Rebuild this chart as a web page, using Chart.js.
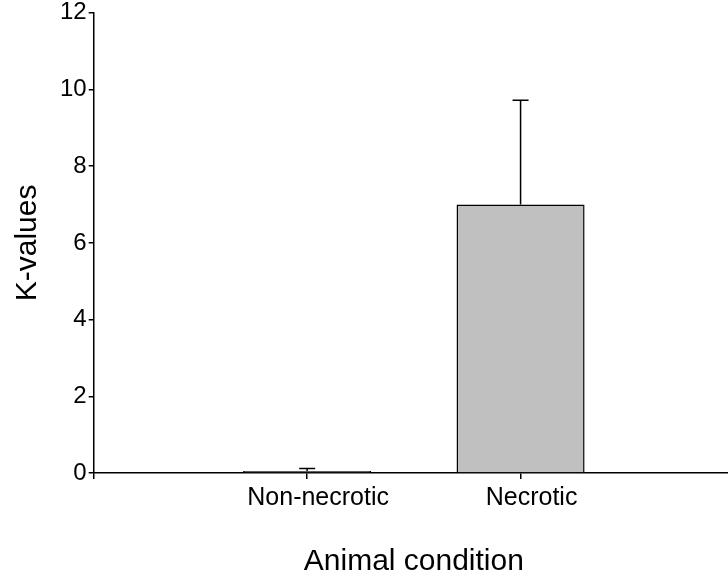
<!DOCTYPE html>
<html>
<head>
<meta charset="utf-8">
<script src="https://cdn.jsdelivr.net/npm/chart.js@4.4.1/dist/chart.umd.min.js"></script>
<style>
    html, body { margin: 0; padding: 0; background: #fff; overflow: hidden; }
    #wrap { width: 748px; height: 580px; }
</style>
</head>
<body>
<div id="wrap"><canvas id="chart" width="748" height="580"></canvas></div>
<script>
// Datos del grafico
const categories = ['', 'Non-necrotic', 'Necrotic', ''];
const kValues = [null, 0.05, 7.0, null];
const kErrors = [null, 0.07, 2.72, null];
const yTicks = [0, 2, 4, 6, 8, 10, 12];

const fontFamily = '"Liberation Sans", Arial, sans-serif';

// Plugin para dibujar las barras de error (solo hacia arriba)
const errorBars = {
    id: 'errorBars',
    afterDatasetsDraw(chart) {
        const ctx = chart.ctx;
        const yScale = chart.scales.y;
        const meta = chart.getDatasetMeta(0);
        ctx.save();
        ctx.strokeStyle = '#000';
        ctx.lineWidth = 1.5;
        meta.data.forEach((bar, i) => {
            if (kValues[i] === null) return;
            const x = bar.x;
            const yTop = yScale.getPixelForValue(kValues[i]);
            const yErr = yScale.getPixelForValue(kValues[i] + kErrors[i]);
            ctx.beginPath();
            ctx.moveTo(x, yTop);
            ctx.lineTo(x, yErr);
            ctx.moveTo(x - 8, yErr);
            ctx.lineTo(x + 8, yErr);
            ctx.stroke();
        });
        ctx.restore();
    }
};

new Chart(document.getElementById('chart').getContext('2d'), {
    type: 'bar',
    data: {
        labels: categories,
        datasets: [{
            data: kValues,
            backgroundColor: '#c0c0c0',
            borderColor: '#000',
            borderWidth: 1.5,
            barPercentage: 0.6,
            categoryPercentage: 1
        }]
    },
    options: {
        responsive: false,
        animation: false,
        layout: { padding: { top: 0, right: 14, bottom: 0, left: 0 } },
        plugins: {
            legend: { display: false },
            tooltip: { enabled: false }
        },
        scales: {
            x: {
                offset: false,
                grid: { offset: false, drawOnChartArea: false, color: '#000', tickLength: 6, lineWidth: 1.5 },
                border: { color: '#000', width: 1.5 },
                ticks: {
                    color: '#000',
                    font: { family: fontFamily, size: 25 },
                    maxRotation: 0,
                    autoSkip: false,
                    labelOffset: 11,
                    padding: 4
                },
                title: {
                    display: true,
                    text: 'Animal condition',
                    color: '#000',
                    font: { family: fontFamily, size: 30 },
                    padding: { top: 27, bottom: 0 }
                }
            },
            y: {
                min: 0,
                max: 12,
                afterBuildTicks: (scale) => { scale.ticks = yTicks.map(v => ({ value: v })); },
                grid: { drawOnChartArea: false, color: '#000', tickLength: 5, lineWidth: 1.5 },
                border: { color: '#000', width: 1.5 },
                ticks: {
                    color: '#000',
                    font: { family: fontFamily, size: 24, lineHeight: 0.9 },
                    padding: 2
                },
                title: {
                    display: true,
                    text: 'K-values',
                    color: '#000',
                    font: { family: fontFamily, size: 30 },
                    padding: { top: 10, bottom: 12 }
                }
            }
        }
    },
    plugins: [errorBars]
});
</script>
</body>
</html>
